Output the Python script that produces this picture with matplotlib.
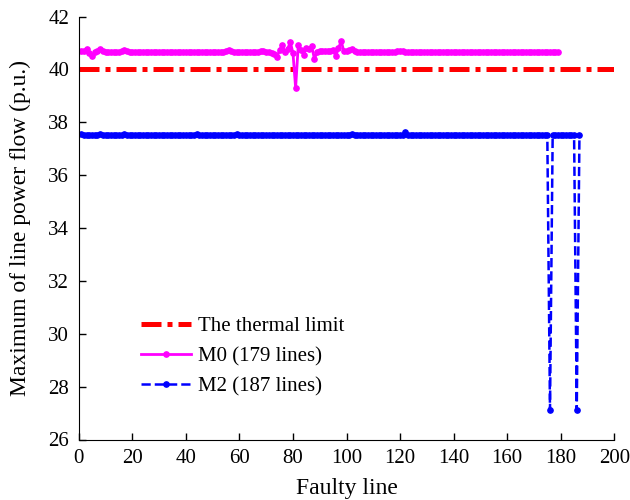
import numpy as np
import matplotlib
matplotlib.use("Agg")
import matplotlib.pyplot as plt

plt.rcParams['font.family'] = ['Liberation Serif', 'DejaVu Serif']
plt.rcParams['mathtext.fontset'] = 'stix'

# thermal limit (p.u.)
limit = 40.0
limit_x = [0, 200]

# M0: maximum line flow per faulty line, 179 lines
m0 = [
    40.70, 40.68, 40.76, 40.62, 40.50, 40.64, 40.70, 40.78, 40.68, 40.67,
    40.67, 40.67, 40.67, 40.67, 40.67, 40.70, 40.73, 40.68, 40.67, 40.67,
    40.67, 40.67, 40.67, 40.67, 40.67, 40.67, 40.67, 40.67, 40.67, 40.67,
    40.67, 40.67, 40.67, 40.67, 40.67, 40.67, 40.67, 40.67, 40.67, 40.67,
    40.67, 40.67, 40.67, 40.67, 40.67, 40.67, 40.67, 40.67, 40.67, 40.67,
    40.67, 40.67, 40.67, 40.67, 40.70, 40.74, 40.70, 40.66, 40.64, 40.67,
    40.67, 40.67, 40.67, 40.67, 40.67, 40.67, 40.67, 40.70, 40.68, 40.66,
    40.66, 40.62, 40.58, 40.46, 40.72, 40.92, 40.66, 40.76, 41.04, 40.62,
    39.30, 40.94, 40.74, 40.56, 40.80, 40.76, 40.88, 40.40, 40.64, 40.70,
    40.70, 40.70, 40.70, 40.70, 40.72, 40.50, 40.80, 41.06, 40.70, 40.68,
    40.72, 40.77, 40.70, 40.67, 40.67, 40.67, 40.67, 40.67, 40.67, 40.67,
    40.67, 40.67, 40.67, 40.67, 40.67, 40.67, 40.67, 40.67, 40.68, 40.71,
    40.68, 40.67, 40.67, 40.67, 40.67, 40.67, 40.67, 40.67, 40.67, 40.67,
    40.67, 40.67, 40.67, 40.67, 40.67, 40.67, 40.67, 40.67, 40.67, 40.67,
    40.67, 40.67, 40.67, 40.67, 40.67, 40.67, 40.67, 40.67, 40.67, 40.67,
    40.67, 40.67, 40.67, 40.67, 40.67, 40.67, 40.67, 40.67, 40.67, 40.67,
    40.67, 40.67, 40.67, 40.67, 40.67, 40.67, 40.67, 40.67, 40.67, 40.67,
    40.67, 40.67, 40.67, 40.67, 40.67, 40.67, 40.67, 40.67, 40.67,
]

# M2: maximum line flow per faulty line, 187 lines
m2 = [
    37.55, 37.52, 37.52, 37.52, 37.52, 37.52, 37.52, 37.56, 37.52, 37.52,
    37.52, 37.52, 37.52, 37.52, 37.52, 37.52, 37.56, 37.52, 37.52, 37.52,
    37.52, 37.52, 37.52, 37.52, 37.52, 37.52, 37.52, 37.52, 37.52, 37.52,
    37.52, 37.52, 37.52, 37.52, 37.52, 37.52, 37.52, 37.52, 37.52, 37.52,
    37.52, 37.52, 37.52, 37.56, 37.52, 37.52, 37.52, 37.52, 37.52, 37.52,
    37.52, 37.52, 37.52, 37.52, 37.52, 37.52, 37.52, 37.52, 37.56, 37.52,
    37.52, 37.52, 37.52, 37.52, 37.52, 37.52, 37.52, 37.52, 37.52, 37.52,
    37.52, 37.52, 37.52, 37.52, 37.52, 37.52, 37.52, 37.52, 37.52, 37.52,
    37.52, 37.52, 37.52, 37.52, 37.52, 37.52, 37.52, 37.52, 37.52, 37.52,
    37.52, 37.52, 37.52, 37.52, 37.52, 37.52, 37.52, 37.52, 37.52, 37.52,
    37.52, 37.56, 37.52, 37.52, 37.52, 37.52, 37.52, 37.52, 37.52, 37.52,
    37.52, 37.52, 37.52, 37.52, 37.52, 37.52, 37.52, 37.52, 37.52, 37.52,
    37.52, 37.62, 37.52, 37.52, 37.52, 37.52, 37.52, 37.52, 37.52, 37.52,
    37.52, 37.52, 37.52, 37.52, 37.52, 37.52, 37.52, 37.52, 37.52, 37.52,
    37.52, 37.52, 37.52, 37.52, 37.52, 37.52, 37.52, 37.52, 37.52, 37.52,
    37.52, 37.52, 37.52, 37.52, 37.52, 37.52, 37.52, 37.52, 37.52, 37.52,
    37.52, 37.52, 37.52, 37.52, 37.52, 37.52, 37.52, 37.52, 37.52, 37.52,
    37.52, 37.52, 37.52, 37.52, 37.52, 27.12, 37.52, 37.52, 37.52, 37.52,
    37.52, 37.52, 37.52, 37.52, 37.52, 27.12, 37.52,
]

x_m0 = np.arange(1, len(m0) + 1)
x_m2 = np.arange(1, len(m2) + 1)

fig = plt.figure(figsize=(6.3, 5.0), dpi=100)
ax = fig.add_axes([0.125, 0.121, 0.85, 0.846])

ax.plot(limit_x, [limit, limit], color='#ff0000', lw=3.6,
        linestyle=(0, (4, 1.2, 1, 1.2)), label='The thermal limit')
ax.plot(x_m0, m0, color='#ff00ff', lw=2.0, marker='o', ms=3.8,
        label='M0 (179 lines)')
ax.plot(x_m2, m2, color='#0000ff', lw=1.8, ls='--', marker='o', ms=3.8,
        label='M2 (187 lines)')

ax.set_xlim(0, 200)
ax.set_ylim(26, 42)
ax.set_xticks(np.arange(0, 201, 20))
ax.set_yticks(np.arange(26, 43, 2))
ax.tick_params(direction='in', length=5, labelsize=15, width=1, pad=7)
ax.spines['top'].set_visible(False)
ax.spines['right'].set_visible(False)
ax.set_xlabel('Faulty line', fontsize=17, labelpad=7)
ax.set_ylabel('Maximum of line power flow (p.u.)', fontsize=17, labelpad=12)

ax.legend(loc='upper left', bbox_to_anchor=(0.1, 0.31), frameon=False,
          fontsize=15, handlelength=2.4, handletextpad=0.35,
          labelspacing=0.5, borderaxespad=0)

fig.savefig('out.png', dpi=100)
